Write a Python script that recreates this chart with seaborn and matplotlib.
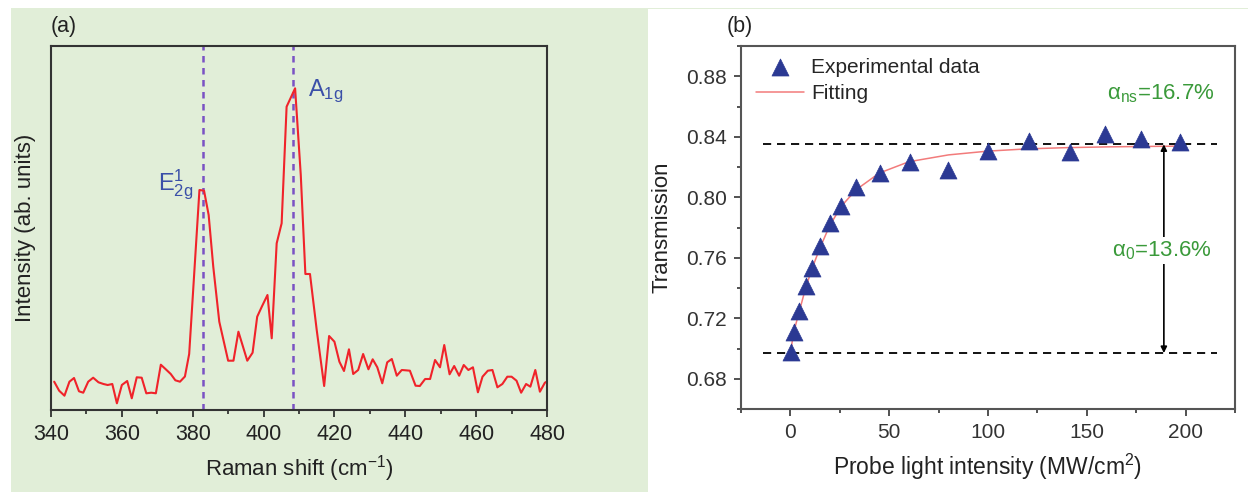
import matplotlib
matplotlib.use("Agg")
import matplotlib.pyplot as plt
import seaborn as sns
import pandas as pd
from matplotlib.patches import Rectangle
from matplotlib.ticker import MultipleLocator, NullLocator

# ---------------- data ----------------
# (a) Raman spectrum (arbitrary intensity units)
raman_shift = [
    340.9, 342.3, 343.8, 345.2, 346.5, 347.9, 349.1, 350.5, 351.9, 353.4,
    354.8, 356.0, 357.3, 358.6, 360.0, 361.5, 362.8, 364.2, 365.6, 366.9,
    368.3, 369.6, 371.0, 372.4, 373.8, 375.1, 376.4, 377.8, 379.0, 381.9,
    383.2, 384.5, 385.8, 387.5, 390.0, 391.5, 392.9, 395.4, 396.9, 398.2,
    399.5, 401.1, 402.3, 403.7, 405.1, 406.5, 408.9, 410.5, 411.8, 413.1,
    415.0, 417.1, 418.5, 420.0, 421.4, 422.7, 424.1, 425.3, 426.7, 428.1,
    429.6, 430.8, 432.1, 433.5, 434.9, 436.2, 437.6, 439.0, 440.1, 441.3,
    442.9, 444.1, 445.6, 447.0, 448.4, 449.8, 451.0, 452.5, 453.8, 455.2,
    456.5, 457.8, 459.1, 460.5, 461.8, 463.3, 464.6, 466.0, 467.4, 468.8,
    470.0, 471.4, 472.7, 474.1, 475.3, 476.7, 478.0, 479.4, 479.9,
]
raman_intensity = [
    28.3, 19.3, 14.3, 28.3, 32.0, 18.7, 17.3, 28.3, 32.3, 27.7,
    26.0, 25.0, 26.0, 6.7, 25.0, 29.0, 11.7, 32.7, 32.3, 16.7,
    17.3, 16.7, 45.3, 40.7, 36.0, 29.7, 28.3, 33.5, 56.0, 220.0,
    219.3, 195.0, 143.3, 88.3, 49.3, 49.3, 78.3, 49.3, 57.3, 93.3,
    103.3, 115.0, 71.7, 166.7, 186.7, 303.3, 321.7, 235.0, 136.0, 136.0,
    80.0, 24.0, 74.0, 68.3, 48.3, 39.0, 60.7, 36.0, 40.0, 56.0,
    40.7, 50.7, 42.7, 26.7, 47.7, 51.0, 34.3, 40.0, 39.7, 39.3,
    24.3, 24.0, 31.0, 31.0, 50.0, 42.7, 65.0, 35.7, 44.0, 34.3,
    45.0, 40.0, 42.7, 17.7, 33.3, 39.3, 40.0, 22.7, 26.0, 33.3,
    33.3, 29.3, 17.3, 26.0, 23.3, 40.0, 18.3, 27.3, 28.3,
]
mode_positions = [383.0, 408.3]

# (b) transmission vs probe intensity
probe_intensity = [0.5, 1.7, 4.6, 7.7, 11.0, 14.8, 19.8, 25.7, 33.3, 45.2,
                   60.4, 79.9, 100.2, 120.8, 141.5, 159.2, 177.4, 197.3]
transmission = [0.698, 0.711, 0.725, 0.741, 0.753, 0.768, 0.783, 0.7945, 0.8066, 0.8159,
                0.8236, 0.8181, 0.8304, 0.8375, 0.8298, 0.8419, 0.8386, 0.8364]
fit_intensity = [0.0, 1.7, 4.6, 7.7, 11.0, 14.8, 19.8, 25.7, 33.3, 45.0,
                 60.0, 80.0, 100.0, 120.0, 140.0, 160.0, 180.0, 198.0]
fit_transmission = [0.697, 0.711, 0.725, 0.740, 0.753, 0.766, 0.781, 0.794, 0.805, 0.816,
                    0.8235, 0.828, 0.8305, 0.832, 0.8328, 0.8333, 0.8336, 0.8338]
t_low = 0.697
t_high = 0.835

# ---------------- style ----------------
sns.set_style("ticks")
plt.rcParams["font.family"] = ["Liberation Sans", "DejaVu Sans"]
plt.rcParams["mathtext.fontset"] = "custom"
plt.rcParams["mathtext.rm"] = "Liberation Sans"
plt.rcParams["mathtext.it"] = "Liberation Sans:italic"
plt.rcParams["mathtext.default"] = "regular"

GREEN_BG = "#e1eed8"
LABEL_BLUE = "#3a4fa8"
PURPLE = "#7a52c4"
RED = "#f0232a"
MARKER_BLUE = "#2b3993"
FIT_PINK = "#f27b7b"
TEXT_GREEN = "#3a9a3a"

W, H = 1248, 492
fig = plt.figure(figsize=(W / 100, H / 100), dpi=100)
fig.patch.set_facecolor("white")
fig.add_artist(Rectangle((11 / W, 0), (648 - 11) / W, (H - 8) / H,
                         transform=fig.transFigure, facecolor=GREEN_BG,
                         edgecolor="none", zorder=0))
fig.add_artist(Rectangle((648 / W, (H - 9) / H), (W - 648) / W, 1.2 / H,
                         transform=fig.transFigure, facecolor=GREEN_BG,
                         edgecolor="none", zorder=0))

# ---------------- (a) Raman ----------------
ax1 = fig.add_axes([51 / W, (H - 410) / H, (547 - 51) / W, (410 - 46) / H])
ax1.set_facecolor("none")
raman_df = pd.DataFrame({"shift": raman_shift, "intensity": raman_intensity})
sns.lineplot(data=raman_df, x="shift", y="intensity", ax=ax1, color=RED,
             lw=1.5, sort=False, estimator=None)
for pos in mode_positions:
    ax1.axvline(pos, color=PURPLE, lw=1.8, ls=(0, (2.6, 2.2)), zorder=1)
ax1.set_xlim(340, 480)
ax1.set_ylim(0, 364)
ax1.xaxis.set_major_locator(MultipleLocator(20))
ax1.xaxis.set_minor_locator(MultipleLocator(10))
ax1.yaxis.set_major_locator(NullLocator())
ax1.tick_params(axis="x", which="major", direction="out", length=5, width=1.2,
                labelsize=15.5, colors="#222222", pad=5)
ax1.tick_params(axis="x", which="minor", direction="out", length=3, width=1.2)
for sp in ax1.spines.values():
    sp.set_visible(True)
    sp.set_color("#333333")
    sp.set_linewidth(1.5)
ax1.set_xlabel("Raman shift (cm$^{-1}$)", fontsize=16, color="#222222", labelpad=6)
ax1.set_ylabel("Intensity (ab. units)", fontsize=16, color="#222222", labelpad=11)
ax1.text(0.0, 1.025, "(a)", transform=ax1.transAxes, fontsize=15.5,
         ha="left", va="bottom", color="#222222")
ax1.text(370.2, 220, r"$\mathrm{E}^{1}_{\mathrm{2g}}$", fontsize=17,
         color=LABEL_BLUE, ha="left", va="baseline")
ax1.text(412.5, 314, r"$\mathrm{A}_{\mathrm{1g}}$", fontsize=17,
         color=LABEL_BLUE, ha="left", va="baseline")

# ---------------- (b) transmission ----------------
ax2 = fig.add_axes([741 / W, (H - 409) / H, (1235 - 741) / W, (409 - 46) / H])
ax2.set_facecolor("white")
for yv in (t_high, t_low):
    ax2.plot([-14, 216], [yv, yv], color="#111111", lw=1.4,
             ls=(0, (4.2, 3.0)), zorder=2)
meas_df = pd.DataFrame({"I": probe_intensity, "T": transmission})
fit_df = pd.DataFrame({"I": fit_intensity, "T": fit_transmission})
sns.scatterplot(data=meas_df, x="I", y="T", ax=ax2, marker="^", s=150,
                color=MARKER_BLUE, edgecolor=MARKER_BLUE, linewidth=0.5,
                label="Experimental data", zorder=4)
sns.lineplot(data=fit_df, x="I", y="T", ax=ax2, color=FIT_PINK, lw=1.1,
             label="Fitting", zorder=3, sort=False, estimator=None)
ax2.annotate("", xy=(189, t_low), xytext=(189, t_high),
             arrowprops=dict(arrowstyle="<|-|>", color="black", lw=1.2,
                             mutation_scale=9, shrinkA=0, shrinkB=0), zorder=5)
ax2.set_xlim(-25, 225)
ax2.set_ylim(0.66, 0.90)
ax2.xaxis.set_major_locator(MultipleLocator(50))
ax2.xaxis.set_minor_locator(MultipleLocator(25))
ax2.yaxis.set_major_locator(MultipleLocator(0.04))
ax2.yaxis.set_minor_locator(MultipleLocator(0.02))
ax2.yaxis.set_major_formatter(matplotlib.ticker.FormatStrFormatter("%.2f"))
ax2.tick_params(which="major", direction="out", length=5, width=1.2,
                labelsize=15, colors="#333333", pad=5)
ax2.tick_params(which="minor", direction="out", length=3, width=1.2, colors="#333333")
for sp in ax2.spines.values():
    sp.set_visible(True)
    sp.set_color("#555555")
    sp.set_linewidth(1.5)
ax2.set_xlabel("Probe light intensity (MW/cm$^{2}$)", fontsize=16.5,
               color="#222222", labelpad=7)
ax2.set_ylabel("Transmission", fontsize=16, color="#222222", labelpad=10)
ax2.text(-0.03, 1.025, "(b)", transform=ax2.transAxes, fontsize=15.5,
         ha="left", va="bottom", color="#222222")
ax2.text(160, 0.8686, r"$\alpha_{\mathrm{ns}}$=16.7%", fontsize=16,
         color=TEXT_GREEN, ha="left", va="center", zorder=6,
         bbox=dict(facecolor="white", edgecolor="none", pad=1))
ax2.text(162.5, 0.7648, r"$\alpha_{\mathrm{0}}$=13.6%", fontsize=16,
         color=TEXT_GREEN, ha="left", va="center", zorder=6,
         bbox=dict(facecolor="white", edgecolor="none", pad=2))
ax2.legend(loc="upper left", bbox_to_anchor=(0.03, 0.968), frameon=False,
           fontsize=15, handlelength=2.3, handletextpad=0.35,
           labelspacing=0.36, borderpad=0, borderaxespad=0)

fig.savefig("out.png", dpi=100, facecolor=fig.get_facecolor())
